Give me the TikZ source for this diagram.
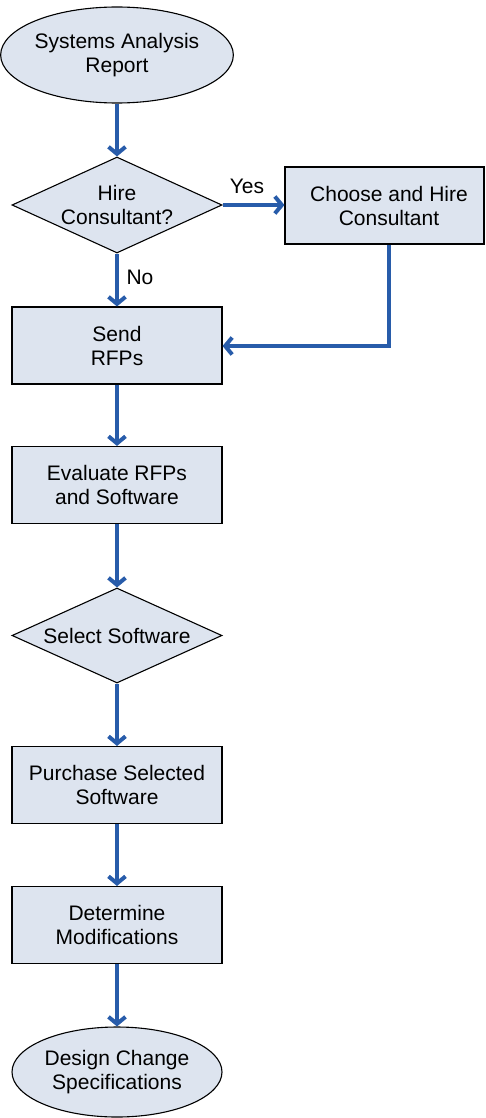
\documentclass[tikz,border=0pt]{standalone}
\usepackage{fontspec}
\setmainfont{Liberation Sans}
\usetikzlibrary{shapes.geometric,arrows.meta}
\definecolor{boxfill}{RGB}{221,228,239}
\definecolor{flowblue}{RGB}{40,92,170}
\tikzset{
  base/.style={draw=black, line width=1.1pt, fill=boxfill, inner sep=0pt,
    font=\fontsize{21}{24}\selectfont, align=center},
  terminal/.style={base, ellipse, minimum width=210pt},
  decision/.style={base, diamond, shape aspect=2.2, minimum width=210pt, minimum height=96pt},
  process/.style={base, rectangle, minimum width=210pt, minimum height=77pt},
  flow/.style={draw=flowblue, line width=4pt, -{Straight Barb[length=7pt,width=17pt]}},
  lbl/.style={font=\fontsize{21}{24}\selectfont, inner sep=0pt}
}
\begin{document}
\begin{tikzpicture}[x=1pt,y=-1pt]
\useasboundingbox (0,0) rectangle (485,1118);
\node[terminal, minimum height=96pt] (start) at (117,55) {Systems Analysis\\Report};
\node[decision] (d1) at (117,205) {Hire\\Consultant?};
\node[process, minimum width=199pt] (choose) at (384.5,205.5) {\hspace*{9pt}Choose and Hire\\\hspace*{9pt}Consultant};
\node[process] (send) at (117,345.5) {Send\\RFPs};
\node[process] (eval) at (117,485) {Evaluate RFPs\\and Software};
\node[decision, minimum height=95pt] (d2) at (117,635.5) {Select Software};
\node[process] (purch) at (117,785) {Purchase Selected\\Software};
\node[process] (determ) at (117,925) {Determine\\Modifications};
\node[terminal, minimum height=90pt] (stop) at (117,1072) {Design Change\\Specifications};
\coordinate (turn) at (389,346);

\draw[flow] (start) -- (d1);
\draw[flow] (d1.east) -- (choose.west |- d1.east);
\draw[flow] (d1) -- (send);
\draw[flow] ([xshift=4.5pt]choose.south) -- (turn) -- (send.east |- turn);
\draw[flow] (send) -- (eval);
\draw[flow] (eval) -- (d2);
\draw[flow] (d2) -- (purch);
\draw[flow] (purch) -- (determ);
\draw[flow] (determ) -- (stop);

\node[lbl] (yes) at (247,186) {Yes};
\node[lbl] (no) at (140,277) {No};
\end{tikzpicture}
\end{document}
